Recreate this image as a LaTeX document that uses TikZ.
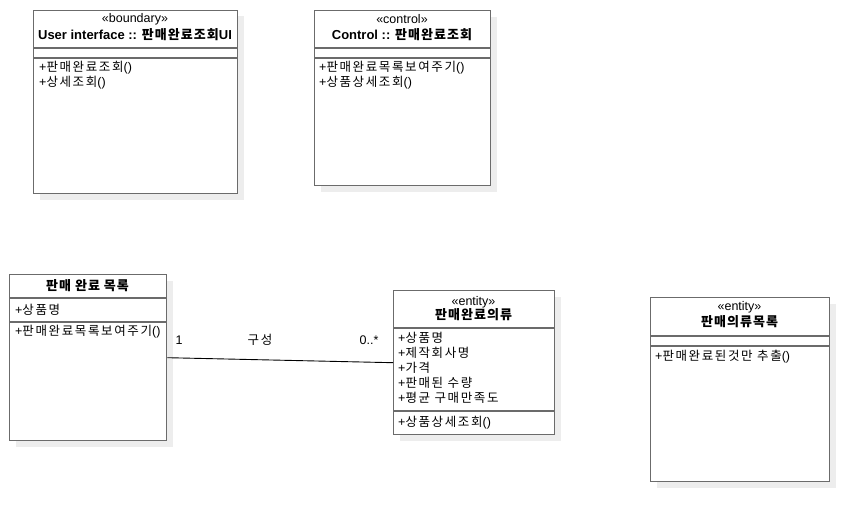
\documentclass[tikz,border=0pt]{standalone}
\usepackage{fontspec}
\setmainfont{Liberation Sans}
\newfontfamily\kr[LetterSpace=13]{Noto Sans CJK KR}
\newfontfamily\krb[LetterSpace=8]{Noto Sans CJK KR}
\newcommand{\K}[1]{{\kr #1}}
\newcommand{\KB}[1]{{\krb\bfseries #1}}
\begin{document}
\begin{tikzpicture}[x=1pt,y=-1pt,
  cls/.style={draw=black!58,line width=1.4pt,fill=white,rectangle,inner sep=0pt,anchor=north west},
  shadowbox/.style={fill=black!7,draw=none},
  sep/.style={draw=black!58,line width=1.4pt},
  stereo/.style={font=\fontsize{12.5}{14}\selectfont,inner sep=0pt,anchor=center},
  cname/.style={font=\fontsize{13}{15}\selectfont\bfseries,inner sep=0pt,anchor=center},
  member/.style={font=\fontsize{12.5}{14}\selectfont,inner sep=0pt,anchor=west},
  lbl/.style={font=\fontsize{12.5}{14}\selectfont,inner sep=0pt,anchor=center},
  assoc/.style={draw=black,line width=0.9pt}]
\useasboundingbox (0,0) rectangle (868,521);
\fill[white] (0,0) rectangle (868,521);
% shadows
\fill[shadowbox] (40,16) rectangle (244,200);
\fill[shadowbox] (321,17) rectangle (497,192);
\fill[shadowbox] (16,281) rectangle (173,447);
\fill[shadowbox] (400,297) rectangle (561,441);
\fill[shadowbox] (657,304) rectangle (836,488);
% boxes
\node[cls,minimum width=204pt,minimum height=183pt] (ui) at (33,10) {};
\node[cls,minimum width=176pt,minimum height=175pt] (ctl) at (314,10) {};
\node[cls,minimum width=157pt,minimum height=166pt] (lst) at (9,274) {};
\node[cls,minimum width=161pt,minimum height=144pt] (cloth) at (393,290) {};
\node[cls,minimum width=179pt,minimum height=184pt] (cat) at (650,297) {};
% separators
\draw[sep] (33,48) -- (237,48); \draw[sep] (33,58) -- (237,58);
\draw[sep] (314,48) -- (490,48); \draw[sep] (314,58) -- (490,58);
\draw[sep] (9,298) -- (166,298); \draw[sep] (9,322) -- (166,322);
\draw[sep] (393,328) -- (554,328); \draw[sep] (393,411) -- (554,411);
\draw[sep] (650,336) -- (829,336); \draw[sep] (650,346) -- (829,346);
% boundary
\node[stereo] (uis) at (135,19) {«boundary»};
\node[cname] (uin) at (135,35) {User interface :: \KB{판매완료조회}UI};
\node[member] (uim1) at (39,68) {+\K{판매완료조회}()};
\node[member] (uim2) at (39,83) {+\K{상세조회}()};
% control
\node[stereo] (ctls) at (402,19) {«control»};
\node[cname] (ctln) at (402,35) {Control :: \KB{판매완료조회}};
\node[member] (ctlm1) at (319,68) {+\K{판매완료목록보여주기}()};
\node[member] (ctlm2) at (319,83) {+\K{상품상세조회}()};
% list
\node[cname] (lstn) at (87.5,286) {\KB{판매 완료 목록}};
\node[member] (lsta1) at (15,310) {+\K{상품명}};
\node[member] (lstm1) at (15,332) {+\K{판매완료목록보여주기}()};
% entity cloth
\node[stereo] (cls) at (473.5,302) {«entity»};
\node[cname] (cln) at (473.5,315) {\KB{판매완료의류}};
\node[member] (cla1) at (398,338) {+\K{상품명}};
\node[member] (cla2) at (398,353) {+\K{제작회사명}};
\node[member] (cla3) at (398,368) {+\K{가격}};
\node[member] (cla4) at (398,383) {+\K{판매된 수량}};
\node[member] (cla5) at (398,398) {+\K{평균 구매만족도}};
\node[member] (clm1) at (398,423) {+\K{상품상세조회}()};
% entity catalog
\node[stereo] (cats) at (739.5,307) {«entity»};
\node[cname] (catn) at (739.5,322) {\KB{판매의류목록}};
\node[member] (catm1) at (655,357) {+\K{판매완료된것만 추출}()};
% association
\draw[assoc] (lst.east) -- (cloth.west);
\node[lbl] (m1) at (179,340) {1};
\node[lbl] (mr) at (260,340) {\K{구성}};
\node[lbl] (m2) at (369,340) {0..*};
\end{tikzpicture}
\end{document}
